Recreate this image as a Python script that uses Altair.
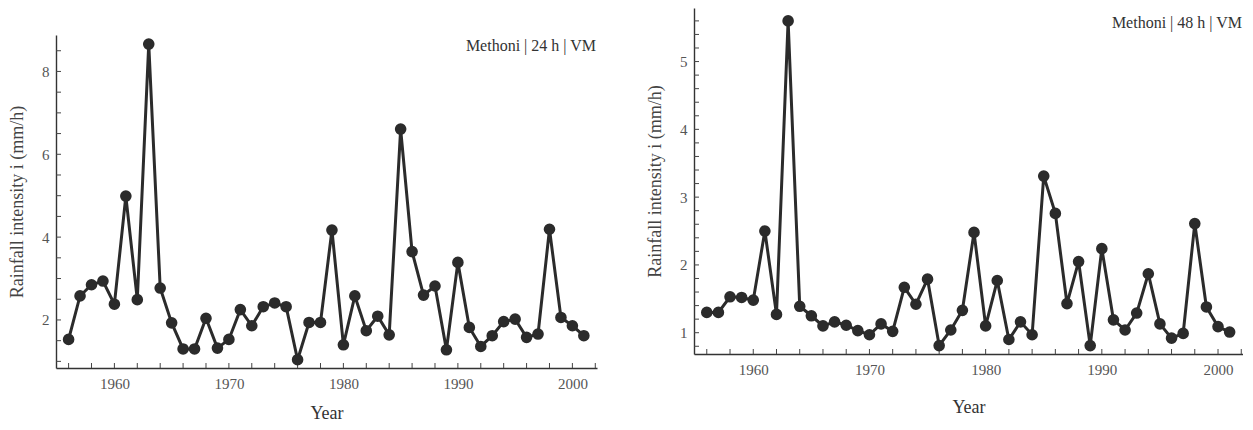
import altair as alt
import pandas as pd

years = list(range(1956, 2002))

i24 = [1.53, 2.58, 2.85, 2.94, 2.38, 4.99, 2.49, 8.66, 2.77, 1.93,
       1.30, 1.30, 2.04, 1.32, 1.53, 2.25, 1.86, 2.32, 2.41, 2.32,
       1.04, 1.94, 1.94, 4.17, 1.40, 2.58, 1.74, 2.09, 1.64, 6.61,
       3.65, 2.60, 2.82, 1.28, 3.39, 1.82, 1.36, 1.62, 1.96, 2.02,
       1.58, 1.66, 4.19, 2.06, 1.86, 1.62]

i48 = [1.30, 1.30, 1.53, 1.52, 1.48, 2.50, 1.27, 5.60, 1.39, 1.25,
       1.10, 1.16, 1.11, 1.03, 0.97, 1.13, 1.02, 1.67, 1.42, 1.79,
       0.81, 1.04, 1.33, 2.48, 1.10, 1.77, 0.90, 1.16, 0.97, 3.31,
       2.76, 1.43, 2.05, 0.81, 2.24, 1.19, 1.04, 1.29, 1.87, 1.13,
       0.92, 0.99, 2.61, 1.38, 1.09, 1.01]

x_labels = [1960, 1970, 1980, 1990, 2000]
x_ticks = list(range(1956, 2003, 2))
y24_labels = [2, 4, 6, 8]
y24_ticks = [1.0 + 0.5 * k for k in range(16)]
y48_labels = [1, 2, 3, 4, 5]
y48_ticks = [round(0.8 + 0.2 * k, 2) for k in range(25)]

label24 = "Methoni | 24 h | VM"
label48 = "Methoni | 48 h | VM"
y_title = "Rainfall intensity i (mm/h)"
x_title = "Year"

SERIF = "Liberation Serif"
INK = "#2b2b2b"


def panel(values, ylabels, yticks, ydom, label, w, h, label_y, xtitle_pad):
    df = pd.DataFrame({"year": years, "i": values})
    xs = alt.Scale(domain=[1954.9, 2002.15], nice=False, zero=False)
    ys = alt.Scale(domain=ydom, nice=False, zero=False)
    xax = alt.Axis(values=x_labels, format="d", ticks=False, grid=False,
                   domainColor="#333", domainWidth=1.4,
                   labelFont=SERIF, labelFontSize=15, labelColor="#555",
                   labelPadding=8, title=x_title, titleFont=SERIF,
                   titleFontSize=18, titleFontWeight="normal",
                   titleColor="#333", titlePadding=xtitle_pad)
    yax = alt.Axis(values=ylabels, format="d", ticks=False, grid=False,
                   domainColor="#333", domainWidth=1.4,
                   labelFont=SERIF, labelFontSize=15, labelColor="#555",
                   labelPadding=7, title=y_title, titleFont=SERIF,
                   titleFontSize=18, titleFontWeight="normal",
                   titleColor="#444", titlePadding=15)
    base = alt.Chart(df)
    line = base.mark_line(color=INK, strokeWidth=3).encode(
        x=alt.X("year:Q", scale=xs, axis=xax),
        y=alt.Y("i:Q", scale=ys, axis=yax),
    )
    pts = base.mark_circle(color=INK, size=135, opacity=1).encode(
        x=alt.X("year:Q", scale=xs), y=alt.Y("i:Q", scale=ys))
    xt = alt.Chart(pd.DataFrame({"t": x_ticks})).mark_rule(
        color="#444", strokeWidth=1).encode(
        x=alt.X("t:Q", scale=xs), y=alt.value(h), y2=alt.value(h - 5))
    yt = alt.Chart(pd.DataFrame({"t": yticks})).mark_rule(
        color="#444", strokeWidth=1).encode(
        y=alt.Y("t:Q", scale=ys), x=alt.value(0), x2=alt.value(5))
    txt = alt.Chart(pd.DataFrame({"s": [label]})).mark_text(
        align="right", baseline="middle", font=SERIF, fontSize=16,
        color="#333").encode(text="s:N", x=alt.value(w - 1), y=alt.value(label_y))
    return alt.layer(xt, yt, line, pts, txt).properties(width=w, height=h)


spacer = alt.Chart(pd.DataFrame({"s": [0]})).mark_rule(
    opacity=0, strokeWidth=0.1).encode(
    x=alt.value(0.5), y=alt.value(0), y2=alt.value(1)).properties(width=1, height=1)

left = alt.vconcat(
    spacer,
    panel(i24, y24_labels, y24_ticks, [0.84, 8.88], label24, 541, 333, 11, 13),
    spacing=26,
)
right = panel(i48, y48_labels, y48_ticks, [0.686, 5.79], label48, 549, 346, 15, 21)

chart = alt.hconcat(left, right, spacing=49).resolve_scale(
    x="independent", y="independent").properties(
    padding={"top": 0, "left": 0, "right": 0, "bottom": 0}
).configure_view(stroke=None)

chart.save("out.html", embed_options={"renderer": "svg", "actions": False})
